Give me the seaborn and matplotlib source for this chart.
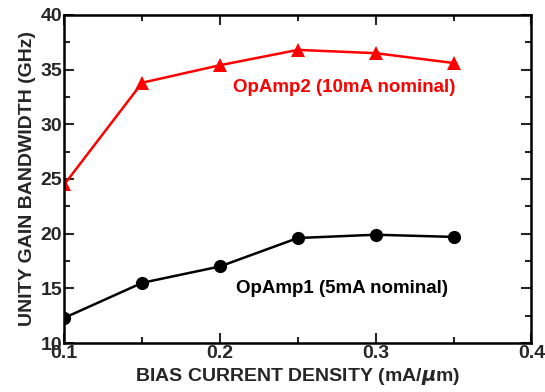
import matplotlib
matplotlib.use("Agg")
import matplotlib.pyplot as plt
import seaborn as sns
import pandas as pd
from matplotlib.ticker import MultipleLocator

x_vals = [0.10, 0.15, 0.20, 0.25, 0.30, 0.35]
opamp1 = [12.3, 15.5, 17.0, 19.6, 19.9, 19.7]
opamp2 = [24.5, 33.8, 35.4, 36.8, 36.5, 35.6]
label1 = "OpAmp1 (5mA nominal)"
label2 = "OpAmp2 (10mA nominal)"

sns.set_theme(style="ticks")
plt.rcParams['font.family'] = ['Liberation Sans', 'DejaVu Sans']
plt.rcParams['font.weight'] = 'bold'
plt.rcParams['mathtext.fontset'] = 'dejavusans'

df1 = pd.DataFrame({"x": x_vals, "y": opamp1})
df2 = pd.DataFrame({"x": x_vals, "y": opamp2})

fig, ax = plt.subplots(figsize=(5.45, 3.92), dpi=100)
fig.subplots_adjust(left=0.118, right=0.975, top=0.962, bottom=0.125)

sns.lineplot(data=df1, x="x", y="y", ax=ax, color="black", marker="o",
             markersize=9.5, linewidth=1.8, markeredgewidth=0)
sns.lineplot(data=df2, x="x", y="y", ax=ax, color="#ff0000", marker="^",
             markersize=9.5, linewidth=1.8, markeredgewidth=0)

ax.text(0.2785, 15.0, label1, color="black", fontsize=13.5, fontweight="bold",
        ha="center", va="center")
ax.text(0.2795, 33.4, label2, color="#ff0000", fontsize=13.5, fontweight="bold",
        ha="center", va="center")

ax.set_xlim(0.1, 0.4)
ax.set_ylim(10, 40)
ax.xaxis.set_minor_locator(MultipleLocator(0.05))
ax.yaxis.set_major_locator(MultipleLocator(5))
ax.yaxis.set_minor_locator(MultipleLocator(2.5))
ax.set_xticks([0.1, 0.2, 0.3, 0.4])
ax.set_xticklabels(["0.1", "0.2", "0.3", "0.4"])

ax.tick_params(which="both", direction="in", top=True, right=True, width=1.5)
ax.tick_params(which="major", length=7, labelsize=14, pad=1.5)
ax.tick_params(which="minor", length=4)
for lab in ax.get_xticklabels() + ax.get_yticklabels():
    lab.set_fontweight("bold")

for s in ax.spines.values():
    s.set_linewidth(1.8)
    s.set_color("black")

ax.set_xlabel(r"BIAS CURRENT DENSITY (mA/$\mu$m)", fontsize=14, fontweight="bold", labelpad=3)
ax.set_ylabel("UNITY GAIN BANDWIDTH (GHz)", fontsize=14, fontweight="bold", labelpad=3)

fig.savefig("out.png", dpi=100)
